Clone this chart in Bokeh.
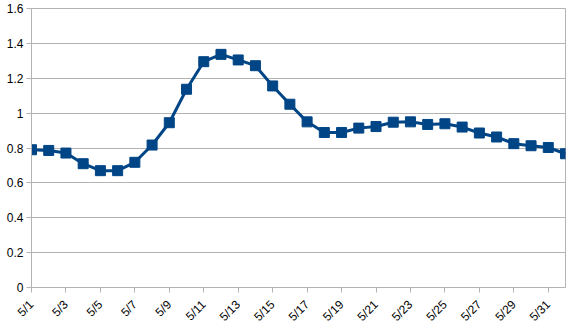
from bokeh.plotting import figure
from bokeh.models import Range1d, FixedTicker, ColumnDataSource
from bokeh.embed import file_html
from bokeh.resources import INLINE

# ---- data ----
dates = ["5/1", "5/2", "5/3", "5/4", "5/5", "5/6", "5/7", "5/8", "5/9", "5/10",
         "5/11", "5/12", "5/13", "5/14", "5/15", "5/16", "5/17", "5/18", "5/19", "5/20",
         "5/21", "5/22", "5/23", "5/24", "5/25", "5/26", "5/27", "5/28", "5/29", "5/30",
         "5/31", "6/1"]
values = [0.79, 0.786, 0.771, 0.71, 0.67, 0.67, 0.718, 0.817, 0.945, 1.137,
          1.295, 1.337, 1.305, 1.272, 1.156, 1.051, 0.950, 0.889, 0.889, 0.914,
          0.923, 0.948, 0.950, 0.935, 0.939, 0.920, 0.886, 0.863, 0.825, 0.813,
          0.803, 0.767]
y_ticks = [0, 0.2, 0.4, 0.6, 0.8, 1.0, 1.2, 1.4, 1.6]
y_tick_labels = ["0", "0.2", "0.4", "0.6", "0.8", "1", "1.2", "1.4", "1.6"]

idx = list(range(len(dates)))
source = ColumnDataSource(dict(x=idx, y=values))

GRID = "#b3b3b3"
LINE = "#004586"
FONT = "Liberation Sans"

p = figure(width=571, height=331, output_backend="svg", toolbar_location=None,
           x_range=Range1d(0, len(dates) - 1), y_range=Range1d(0, 1.6),
           min_border_left=31, min_border_right=6, min_border_top=8, min_border_bottom=42)

p.line("x", "y", source=source, line_color=LINE, line_width=3)
p.scatter("x", "y", source=source, marker="square", size=10,
          fill_color=LINE, line_color=LINE)

# x axis
major = [i for i in idx if i % 2 == 0]
p.xaxis.ticker = FixedTicker(ticks=major, minor_ticks=idx)
p.xaxis.major_label_overrides = {i: dates[i] for i in major}
p.xaxis.major_label_orientation = 0.785398
p.xaxis.major_tick_in = 0
p.xaxis.major_tick_out = 5
p.xaxis.minor_tick_in = 0
p.xaxis.minor_tick_out = 5
p.xaxis.major_label_standoff = 10

# y axis
p.yaxis.ticker = FixedTicker(ticks=y_ticks)
p.yaxis.major_label_overrides = {t: l for t, l in zip(y_ticks, y_tick_labels)}
p.yaxis.major_tick_in = 0
p.yaxis.major_tick_out = 5
p.yaxis.minor_tick_line_color = None
p.yaxis.major_label_standoff = 3

for ax in (p.xaxis, p.yaxis):
    ax.axis_line_color = GRID
    ax.major_tick_line_color = GRID
    ax.minor_tick_line_color = GRID if ax is p.xaxis else None
    ax.major_label_text_font = FONT
    ax.major_label_text_font_size = "12px"
    ax.major_label_text_color = "#000000"

p.xgrid.grid_line_color = None
p.ygrid.grid_line_color = GRID
p.ygrid.ticker = FixedTicker(ticks=y_ticks)
p.outline_line_color = GRID
p.background_fill_color = "white"
p.border_fill_color = "white"

open("out.html", "w").write(file_html(p, INLINE))
